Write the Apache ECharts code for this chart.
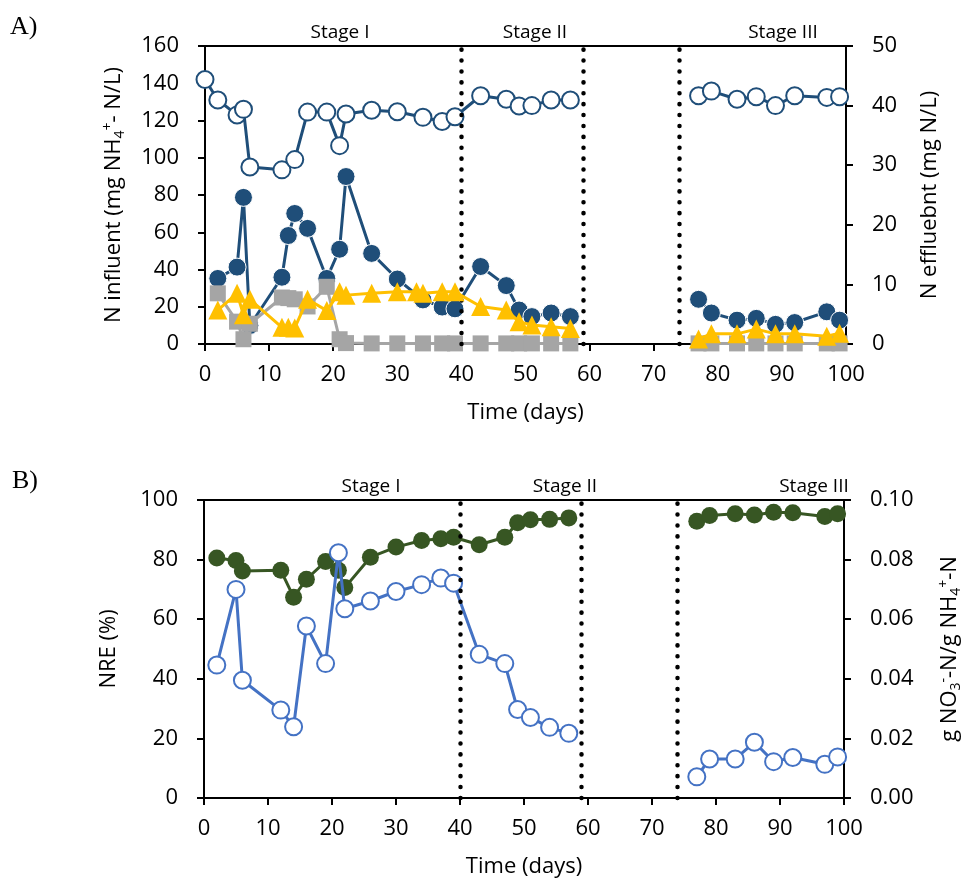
<!DOCTYPE html>
<html>
<head>
<meta charset="utf-8">
<script src="https://cdn.jsdelivr.net/npm/echarts@6/dist/echarts.min.js"></script>
<style>
html,body{margin:0;padding:0;background:#fff;}
#c{width:971px;height:882px;}
</style>
</head>
<body>
<div id="c"></div>
<script>
// ---------- Panel A data (days) ----------
const daysA = [0,2,5,6,7,12,13,14,16,19,21,22,26,30,33,34,37,39,43,47,49,51,54,57,77,79,83,86,89,92,97,99];
// influent NH4+ (mg N/L, left axis)
const influentNH4 = [142,131,123,126,95,93.5,null,99,124.5,124.5,106.5,123.5,125.5,124.7,null,121.7,119.5,122,133.3,131.4,127.8,128,131,131,133.3,135.8,131.4,132.8,128,133.3,132.4,132.8];
// effluent (mg N/L, right axis)
const effluentNH4 = [null,11.0,12.9,24.6,3.1,11.2,18.2,21.9,19.4,11.0,15.9,28.1,15.2,10.9,null,7.4,6.2,5.9,13.0,9.8,5.7,4.6,5.2,4.6,7.5,5.2,4.0,4.3,3.3,3.6,5.4,4.0];
const effluentNO2 = [null,8.5,3.75,0.8,3.4,7.8,7.7,7.5,6.3,9.6,0.8,0.15,0.1,0.1,null,0.1,0.1,0.1,0.1,0.1,0.1,0.1,0.1,0.1,0.1,0.1,0.1,0.1,0.1,0.1,0.1,0.1];
const effluentNO3 = [null,5.7,8.5,4.9,7.5,2.8,2.8,2.7,7.5,5.6,8.75,8.2,8.5,8.75,8.75,8.5,8.75,8.75,6.3,5.7,3.75,3.2,2.9,2.6,0.85,1.7,1.7,2.5,1.7,1.7,1.3,1.8];

// ---------- Panel B data ----------
const daysB = [2,5,6,12,14,16,19,21,22,26,30,34,37,39,43,47,49,51,54,57,77,79,83,86,89,92,97,99];
const nre = [80.5,79.7,76.2,76.4,67.4,73.4,79.4,76.4,70.6,80.8,84.2,86.4,87,87.5,85,87.5,92.4,93.4,93.5,94,92.9,94.8,95.4,95,95.9,95.7,94.5,95.4];
const no3Ratio = [0.0446,0.070,0.0395,0.0295,0.0239,0.0577,0.0451,0.0823,0.0635,0.0661,0.0693,0.0716,0.0738,0.0721,0.0482,0.0451,0.0297,0.027,0.0237,0.0217,0.0071,0.0131,0.0131,0.0187,0.0122,0.0136,0.0113,0.0138];

// stage boundaries and labels
const stageBounds = [40,59,74];
const stageNames = ['Stage I','Stage II','Stage III'];
const xTicks = [0,100,10];
// no measurements (and no connecting line) between these stages
const pauseStart = 59, pauseEnd = 74;

function pairs(days, vals){
  const out=[];
  let prev=null;
  days.forEach((d,i)=>{
    if(vals[i]==null) return;
    if(prev!=null && prev<pauseStart && d>pauseEnd) out.push(['-','-']);
    out.push([d,vals[i]]);
    prev=d;
  });
  return out;
}

const FONT = 'Open Sans';
const tickStyle = {fontFamily:FONT,fontSize:22,color:'#000'};
const axisLine = {show:true,lineStyle:{color:'#000',width:2}};
const axisTick = {show:true,length:7,lineStyle:{color:'#000',width:2}};

function xAxisCfg(grid){
  return {type:'value',gridIndex:grid,min:xTicks[0],max:xTicks[1],interval:xTicks[2],
    name:'Time (days)',nameLocation:'middle',nameGap:58,
    nameTextStyle:{fontFamily:FONT,fontSize:22,color:'#000'},
    axisLine:axisLine,axisTick:axisTick,splitLine:{show:false},
    axisLabel:Object.assign({margin:20},tickStyle)};
}

const dotted = {
  silent:true,symbol:['none','none'],label:{show:false},
  lineStyle:{color:'#000',width:4.5,type:[0.1,10.8],cap:'round'},
  data: stageBounds.map(v=>({xAxis:v}))
};

const chart = echarts.init(document.getElementById('c'),null,{renderer:'canvas'});
chart.setOption({
  animation:false,
  backgroundColor:'#fff',
  grid:[
    {left:205,right:125,top:46,height:298,show:true,borderColor:'#000',borderWidth:2},
    {left:204,right:119,top:500,height:298,show:true,borderColor:'#000',borderWidth:2}
  ],
  xAxis:[xAxisCfg(0),xAxisCfg(1)],
  yAxis:[
    {type:'value',gridIndex:0,min:0,max:160,interval:20,position:'left',
     name:'{t|N influent (mg NH}{sub|4}{sup|+}{t|- N/L)}',nameLocation:'middle',nameGap:78,
     nameTextStyle:{rich:{
       t:{fontFamily:FONT,fontSize:22,color:'#000'},
       sub:{fontFamily:FONT,fontSize:14,color:'#000',verticalAlign:'bottom',padding:[12,0,0,0]},
       sup:{fontFamily:FONT,fontSize:14,color:'#000',verticalAlign:'top',padding:[0,0,12,0]}}},
     axisLine:axisLine,axisTick:axisTick,splitLine:{show:false},axisLabel:Object.assign({margin:26},tickStyle)},
    {type:'value',gridIndex:0,min:0,max:50,interval:10,position:'right',
     name:'N effluebnt (mg N/L)',nameLocation:'middle',nameGap:73,
     nameTextStyle:{fontFamily:FONT,fontSize:22,color:'#000'},
     axisLine:axisLine,axisTick:axisTick,splitLine:{show:false},axisLabel:Object.assign({margin:26},tickStyle)},
    {type:'value',gridIndex:1,min:0,max:100,interval:20,position:'left',
     name:'NRE (%)',nameLocation:'middle',nameGap:84,
     nameTextStyle:{fontFamily:FONT,fontSize:22,color:'#000'},
     axisLine:axisLine,axisTick:axisTick,splitLine:{show:false},axisLabel:Object.assign({margin:26},tickStyle)},
    {type:'value',gridIndex:1,min:0,max:0.1,interval:0.02,position:'right',
     name:'{t|g NO}{sub|3}{sup|-}{t|-N/g NH}{sub|4}{sup|+}{t|-N}',nameLocation:'middle',nameGap:93,
     nameTextStyle:{rich:{
       t:{fontFamily:FONT,fontSize:22,color:'#000'},
       sub:{fontFamily:FONT,fontSize:14,color:'#000',verticalAlign:'bottom',padding:[12,0,0,0]},
       sup:{fontFamily:FONT,fontSize:14,color:'#000',verticalAlign:'top',padding:[0,0,12,0]}}},
     axisLine:axisLine,axisTick:axisTick,splitLine:{show:false},
     axisLabel:Object.assign({margin:26,formatter:v=>v.toFixed(2)},tickStyle)}
  ],
  series:[
    {type:'line',name:'Influent NH4',xAxisIndex:0,yAxisIndex:0,data:pairs(daysA,influentNH4),
     symbol:'circle',symbolSize:17,lineStyle:{color:'#1F4E79',width:3},connectNulls:false,
     itemStyle:{color:'#fff',borderColor:'#1F4E79',borderWidth:2},markLine:dotted,z:2},
    {type:'line',name:'Effluent NH4',xAxisIndex:0,yAxisIndex:1,data:pairs(daysA,effluentNH4),
     symbol:'circle',symbolSize:18,lineStyle:{color:'#1F4E79',width:3},connectNulls:false,
     itemStyle:{color:'#1F4E79',borderColor:'#fff',borderWidth:1},z:3},
    {type:'line',name:'Effluent NO2',xAxisIndex:0,yAxisIndex:1,data:pairs(daysA,effluentNO2),
     symbol:'rect',symbolSize:16,lineStyle:{color:'#A5A5A5',width:3},connectNulls:false,
     itemStyle:{color:'#A5A5A5'},z:4},
    {type:'line',name:'Effluent NO3',xAxisIndex:0,yAxisIndex:1,data:pairs(daysA,effluentNO3),
     symbol:'triangle',symbolSize:19,lineStyle:{color:'#FFC000',width:3},connectNulls:false,
     itemStyle:{color:'#FFC000'},z:5},
    {type:'line',name:'NRE',xAxisIndex:1,yAxisIndex:2,data:pairs(daysB,nre),
     symbol:'circle',symbolSize:17,lineStyle:{color:'#375623',width:3},connectNulls:false,
     itemStyle:{color:'#375623'},markLine:dotted,z:2},
    {type:'line',name:'NO3 ratio',xAxisIndex:1,yAxisIndex:3,data:pairs(daysB,no3Ratio),
     symbol:'circle',symbolSize:17,lineStyle:{color:'#4472C4',width:3},connectNulls:false,
     itemStyle:{color:'#fff',borderColor:'#4472C4',borderWidth:2},z:3}
  ],
  graphic:[
    {type:'text',left:10,top:14,style:{text:'A)',font:'26px "Liberation Serif"',fill:'#000'}},
    {type:'text',left:12,top:468,style:{text:'B)',font:'26px "Liberation Serif"',fill:'#000'}},
    {type:'text',x:340,y:33,style:{text:stageNames[0],font:'19px "Open Sans"',fill:'#000',align:'center',verticalAlign:'middle'}},
    {type:'text',x:535,y:33,style:{text:stageNames[1],font:'19px "Open Sans"',fill:'#000',align:'center',verticalAlign:'middle'}},
    {type:'text',x:783,y:33,style:{text:stageNames[2],font:'19px "Open Sans"',fill:'#000',align:'center',verticalAlign:'middle'}},
    {type:'text',x:371,y:487,style:{text:stageNames[0],font:'19px "Open Sans"',fill:'#000',align:'center',verticalAlign:'middle'}},
    {type:'text',x:565,y:487,style:{text:stageNames[1],font:'19px "Open Sans"',fill:'#000',align:'center',verticalAlign:'middle'}},
    {type:'text',x:814,y:487,style:{text:stageNames[2],font:'19px "Open Sans"',fill:'#000',align:'center',verticalAlign:'middle'}}
  ]
});
</script>
</body>
</html>
